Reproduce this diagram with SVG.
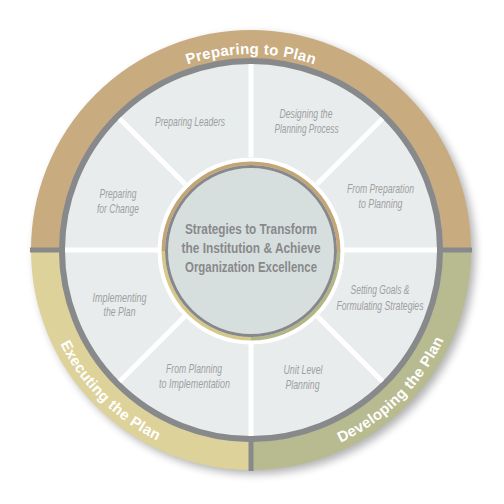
<svg xmlns="http://www.w3.org/2000/svg" width="504" height="504" viewBox="0 0 504 504">
  <style>
    .band { fill: none; stroke-width: 28; }
    .div { stroke: #ffffff; stroke-width: 5; }
    .gdiv { stroke: #88898b; stroke-width: 5; }
    .lbl { font-family: "Liberation Sans", Arial, sans-serif; font-style: italic; font-size: 13.5px; fill: #9d9fa1; text-anchor: middle; }
    .ctr { font-family: "Liberation Sans", Arial, sans-serif; font-weight: bold; font-size: 14.5px; fill: #87898b; text-anchor: middle; }
    .arc { font-family: "Liberation Sans", Arial, sans-serif; font-weight: bold; font-size: 15px; fill: #ffffff; letter-spacing: 0.3px; }
  </style>
  <defs>
    <filter id="shadow" x="-20%" y="-20%" width="140%" height="140%">
      <feGaussianBlur stdDeviation="4"/>
    </filter>
    <path id="arcTop" d="M 55 250 A 196 196 0 0 1 447 250"/>
    <path id="arcBL" d="M 38.5 250 A 212.5 212.5 0 0 0 251 462.5"/>
    <path id="arcBR" d="M 251 462.5 A 212.5 212.5 0 0 0 463.5 250"/>
  </defs>

  <rect width="504" height="504" fill="#ffffff"/>

  <!-- shadow -->
  <circle cx="255" cy="254" r="220" fill="#000000" opacity="0.3" filter="url(#shadow)"/>

  <!-- outer band segments -->
  <g id="preparing-to-plan">
    <path class="band" stroke="#c9ab80" d="M 45 250 A 206 206 0 0 1 457 250"/>
    <text class="arc"><textPath href="#arcTop" startOffset="50%" text-anchor="middle">Preparing to Plan</textPath></text>
  </g>
  <g id="executing-the-plan">
    <path class="band" stroke="#ddd299" d="M 45 250 A 206 206 0 0 0 251 456"/>
    <text class="arc"><textPath href="#arcBL" startOffset="50%" text-anchor="middle">Executing the Plan</textPath></text>
  </g>
  <g id="developing-the-plan">
    <path class="band" stroke="#b8bb8f" d="M 251 456 A 206 206 0 0 0 457 250"/>
    <text class="arc"><textPath href="#arcBR" startOffset="50%" text-anchor="middle">Developing the Plan</textPath></text>
  </g>

  <!-- gray ring and inner disk -->
  <g id="ring">
    <circle cx="251" cy="250" r="189" fill="#e9ecec" stroke="#88898b" stroke-width="6"/>
    <line class="gdiv" x1="30" y1="250" x2="64" y2="250"/>
    <line class="gdiv" x1="438" y1="250" x2="472" y2="250"/>
    <line class="gdiv" x1="251" y1="437" x2="251" y2="471"/>
  </g>

  <!-- dividers between sectors -->
  <g id="connectors">
    <line class="div" x1="344" y1="250" x2="437" y2="250"/>
    <line class="div" x1="316.8" y1="315.8" x2="382.5" y2="381.5"/>
    <line class="div" x1="251" y1="343" x2="251" y2="436"/>
    <line class="div" x1="185.2" y1="315.8" x2="119.5" y2="381.5"/>
    <line class="div" x1="158" y1="250" x2="65" y2="250"/>
    <line class="div" x1="185.2" y1="184.2" x2="119.5" y2="118.5"/>
    <line class="div" x1="251" y1="157" x2="251" y2="64"/>
    <line class="div" x1="316.8" y1="184.2" x2="382.5" y2="118.5"/>
  </g>

  <!-- sector labels -->
  <g id="preparing-leaders">
    <text class="lbl" x="190" y="125.5" textLength="70" lengthAdjust="spacingAndGlyphs">Preparing Leaders</text>
  </g>
  <g id="designing-planning-process">
    <text class="lbl" x="306" y="117.5" textLength="53" lengthAdjust="spacingAndGlyphs">Designing the</text>
    <text class="lbl" x="306.5" y="132.5" textLength="64" lengthAdjust="spacingAndGlyphs">Planning Process</text>
  </g>
  <g id="from-preparation-to-planning">
    <text class="lbl" x="380.5" y="192.5" textLength="67" lengthAdjust="spacingAndGlyphs">From Preparation</text>
    <text class="lbl" x="380.5" y="207.5" textLength="44" lengthAdjust="spacingAndGlyphs">to Planning</text>
  </g>
  <g id="setting-goals">
    <text class="lbl" x="380" y="294" textLength="59" lengthAdjust="spacingAndGlyphs">Setting Goals &amp;</text>
    <text class="lbl" x="380" y="309.5" textLength="87" lengthAdjust="spacingAndGlyphs">Formulating Strategies</text>
  </g>
  <g id="unit-level-planning">
    <text class="lbl" x="303" y="374" textLength="39" lengthAdjust="spacingAndGlyphs">Unit Level</text>
    <text class="lbl" x="302.5" y="389" textLength="34" lengthAdjust="spacingAndGlyphs">Planning</text>
  </g>
  <g id="from-planning-to-implementation">
    <text class="lbl" x="194" y="373" textLength="56" lengthAdjust="spacingAndGlyphs">From Planning</text>
    <text class="lbl" x="194.5" y="388" textLength="71" lengthAdjust="spacingAndGlyphs">to Implementation</text>
  </g>
  <g id="implementing-the-plan">
    <text class="lbl" x="119.5" y="301.5" textLength="54" lengthAdjust="spacingAndGlyphs">Implementing</text>
    <text class="lbl" x="119.5" y="316" textLength="32" lengthAdjust="spacingAndGlyphs">the Plan</text>
  </g>
  <g id="preparing-for-change">
    <text class="lbl" x="118" y="197.5" textLength="37" lengthAdjust="spacingAndGlyphs">Preparing</text>
    <text class="lbl" x="118" y="212.5" textLength="42" lengthAdjust="spacingAndGlyphs">for Change</text>
  </g>

  <!-- center -->
  <g id="center">
    <circle cx="251" cy="251" r="93.5" fill="#ffffff"/>
    <path fill="none" stroke="#c4a574" stroke-width="3.5" d="M 163.3 251 A 87.7 87.7 0 0 1 338.7 251"/>
    <path fill="none" stroke="#d6c987" stroke-width="3.5" d="M 163.3 251 A 87.7 87.7 0 0 0 251 338.7"/>
    <path fill="none" stroke="#b2b584" stroke-width="3.5" d="M 251 338.7 A 87.7 87.7 0 0 0 338.7 251"/>
    <circle cx="251" cy="251" r="84.5" fill="#d7dfde" stroke="#87888b" stroke-width="3"/>
    <text class="ctr" x="251" y="233.5" textLength="132" lengthAdjust="spacingAndGlyphs">Strategies to Transform</text>
    <text class="ctr" x="251" y="252.5" textLength="139" lengthAdjust="spacingAndGlyphs">the Institution &amp; Achieve</text>
    <text class="ctr" x="251" y="272" textLength="132" lengthAdjust="spacingAndGlyphs">Organization Excellence</text>
  </g>
</svg>
